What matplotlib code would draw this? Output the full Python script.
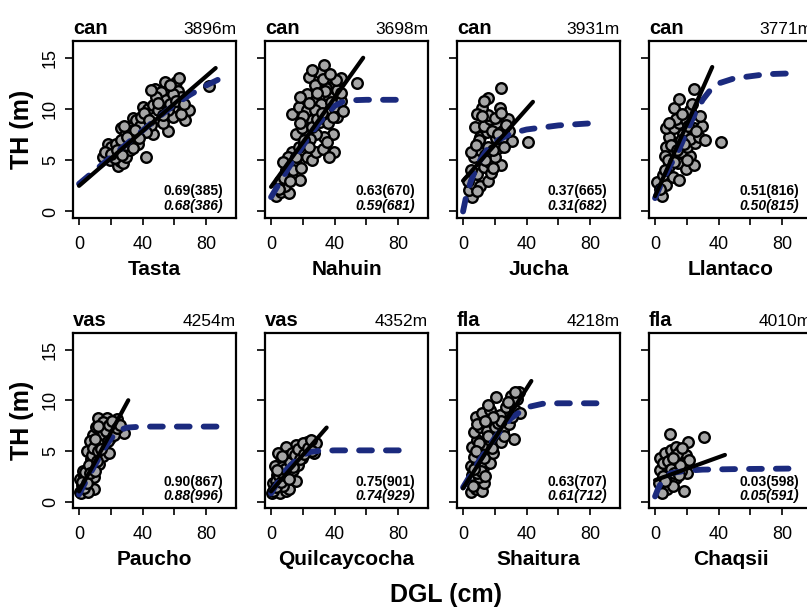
import matplotlib.pyplot as plt
import numpy as np

plt.rcParams["font.family"] = ["Liberation Sans", "DejaVu Sans"]

# panel labels
sites = ["Tasta", "Nahuin", "Jucha", "Llantaco",
         "Paucho", "Quilcaycocha", "Shaitura", "Chaqsii"]
groups = ["can", "can", "can", "can", "vas", "vas", "fla", "fla"]
elevations = ["3896m", "3698m", "3931m", "3771m",
              "4254m", "4352m", "4218m", "4010m"]
stat_lin = ["0.69(385)", "0.63(670)", "0.37(665)", "0.51(816)",
            "0.90(867)", "0.75(901)", "0.63(707)", "0.03(598)"]
stat_nl = ["0.68(386)", "0.59(681)", "0.31(682)", "0.50(815)",
           "0.88(996)", "0.74(929)", "0.61(712)", "0.05(591)"]

# scatter points (DGL cm, TH m)
tasta_x = [18.2, 20.3, 22.4, 19.3, 24.5, 25.6, 27.6, 29.7, 26.6, 28.7, 31.8, 33.9, 36, 38.1,
           37, 42.3, 40.2, 43.3, 46.5, 47.5, 53.8, 51.7, 54.9, 56, 49.6, 52.8, 46.5, 61,
           63.1, 62, 64.2, 65.3, 69.5, 66.4, 59, 59, 82, 31.8, 23.5, 29.7, 36, 39.1, 45.4,
           42.3, 48.6, 59, 56, 32.9, 26.6, 22.4, 15.1, 16.1,
           20, 24, 27, 30, 34, 38, 41, 44, 50, 53, 57, 61, 64, 66, 35, 28, 45, 57]
tasta_y = [6.6, 6.3, 5.8, 5.0, 4.4, 4.9, 4.7, 5.3, 8.1, 7.5, 7.0, 9.1, 8.9, 8.3,
           6.6, 5.3, 10.2, 10.0, 10.4, 12.0, 12.6, 11.7, 10.9, 7.9, 9.9, 8.6, 7.6, 12.6,
           13.0, 11.8, 11.2, 9.9, 9.9, 8.9, 10.2, 9.2, 12.2, 6.0, 6.6, 6.5, 7.6, 9.2, 8.4,
           7.8, 11.2, 11.5, 9.9, 7.9, 7.0, 5.2, 5.3, 5.8,
           5.6, 6.0, 5.5, 7.3, 6.2, 7.2, 9.6, 8.9, 10.6, 9.4, 10.5, 10.8, 9.5, 10.5, 8.0,
           8.3, 11.9, 12.3]

nahuin_x = [3.4, 6.5, 11.5, 8.5, 5.4, 9.5, 12.5, 18.5, 15.5, 13.5, 17.5, 22.6, 25.6, 28.6,
            32.6, 39.7, 36.7, 15.5, 19.5, 13.5, 17.5, 22.6, 27.6, 31.7, 36.7, 39.7, 41.7,
            38.7, 33.6, 28.6, 24.6, 23.6, 30.6, 33.6, 36.7, 39.7, 43.8, 27.6, 22.6, 53.8,
            41.7, 43.8, 25.6, 30.6, 35.7, 20.6, 10.5, 7.5, 18.5, 27.6, 38.7, 34.7,
            5, 8, 12, 14, 16, 19, 21, 24, 26, 29, 32, 34, 38, 41, 44, 20, 24, 29, 33, 37,
            26, 45, 35, 18]
nahuin_y = [1.5, 1.9, 1.8, 2.5, 3.0, 4.0, 4.3, 3.1, 4.6, 5.8, 6.3, 5.3, 5.0, 5.8,
            6.1, 5.8, 5.3, 7.6, 8.1, 9.5, 10.2, 9.9, 10.8, 10.5, 11.2, 10.2, 9.2,
            7.6, 7.3, 7.6, 7.1, 13.1, 13.5, 14.3, 12.8, 12.3, 13.0, 12.3, 11.5, 12.5,
            11.9, 10.8, 8.9, 8.7, 8.6, 6.6, 5.3, 4.8, 11.2, 9.9, 9.2, 12.1,
            2.2, 3.3, 3.0, 4.0, 5.3, 4.2, 7.0, 6.3, 8.2, 9.0, 9.6, 11.8, 10.7, 12.8,
            11.6, 9.3, 10.6, 11.6, 12.9, 13.4, 13.8, 9.8, 6.8, 8.6]

jucha_x = [5.8, 3.8, 6.9, 10.9, 16, 8.9, 12.9, 16.9, 24, 20, 6.9, 10.9, 16, 22, 25,
           10.9, 14.9, 7.7, 12.9, 21, 28, 16.9, 15.9, 20, 11.9, 23.4, 15.9, 24, 31,
           41.1, 29, 25, 9.9, 13.9, 17.9, 4.8, 20.6, 26, 8.9, 18.9,
           3, 5, 8, 12, 14, 18, 22, 24, 27, 13, 9, 19]
jucha_y = [1.4, 2.1, 2.7, 2.5, 3.0, 3.7, 4.3, 4.7, 4.5, 5.3, 5.3, 6.0, 6.3, 6.2, 6.9,
           7.3, 7.8, 8.2, 8.3, 8.6, 9.0, 9.0, 9.4, 9.1, 10.1, 10.1, 11.1, 12.1, 6.9,
           6.8, 7.9, 7.9, 7.0, 5.5, 3.8, 4.0, 7.2, 6.3, 9.5, 6.0,
           3.0, 5.8, 6.5, 9.3, 5.0, 7.9, 7.6, 9.6, 8.4, 10.8, 2.0, 4.2]

llantaco_x = [4.1, 1, 7.1, 5.1, 11.2, 15.2, 9.1, 14.2, 19.3, 22.3, 24.4, 11.2, 16.6, 7.1,
              13.2, 20.3, 25.4, 9.1, 17.3, 22.3, 27.4, 31.5, 41.6, 7.1, 12.2, 15.2, 19.3,
              24.4, 29.4, 28.4, 22.3, 12.2, 15.2, 24.4, 10.2, 16.2, 6.1,
              3, 6, 8, 10, 12, 14, 18, 20, 21, 26, 13, 17, 23, 9]
llantaco_y = [1.5, 2.9, 2.6, 3.6, 3.4, 3.1, 4.4, 4.7, 4.1, 5.4, 4.5, 5.7, 5.8, 6.3,
              6.7, 6.3, 6.7, 7.3, 7.6, 7.1, 7.3, 7.0, 6.8, 8.1, 8.1, 8.6, 8.9,
              8.1, 8.3, 9.3, 9.9, 10.1, 11.0, 12.0, 5.4, 7.0, 5.4,
              2.2, 4.0, 5.0, 6.5, 4.8, 6.0, 6.6, 5.0, 8.3, 7.9, 9.0, 9.5, 10.5, 8.6]

paucho_x = [0.6, 1.6, 2.6, 4.7, 0.6, 3.4, 6.7, 9.7, 5.7, 8.7, 12.8, 4.7, 7.7, 10.7, 14.8,
            11.7, 15.8, 18.8, 8.7, 12.8, 16.8, 10.7, 13.8, 11.7, 17.8, 20.9, 23, 25, 28,
            19.8, 16.8, 23.7, 14.8, 6.7, 2.6, 1.0, 9.7, 5.7,
            2, 3, 4, 5, 6, 7, 8, 9, 10, 11, 12, 13, 14, 15, 17, 18, 19, 21, 22, 24, 26,
            10, 12]
paucho_y = [0.9, 1.6, 1.1, 1.2, 2.2, 2.5, 2.1, 2.4, 3.2, 3.5, 3.7, 5.0, 4.2, 4.8, 4.5,
            5.6, 5.5, 4.8, 6.6, 6.4, 6.4, 7.4, 6.9, 8.2, 8.2, 7.1, 7.8, 7.1, 6.8,
            6.3, 7.4, 8.1, 7.9, 6.0, 3.0, 0.8, 1.2, 0.9,
            1.9, 1.3, 2.9, 1.8, 3.6, 2.8, 4.6, 5.3, 3.0, 4.0, 5.0, 6.0, 5.2, 6.7, 7.0,
            6.0, 7.6, 8.0, 6.6, 7.3, 7.6, 6.2, 7.5]

quil_x = [0.4, 2.4, 5.5, 9.6, 11.6, 1.4, 4.5, 7.6, 3.5, 6.5, 9.6, 12.7, 10.6, 13.7, 5.5,
          8.6, 14.7, 11.6, 16.7, 19.8, 17.8, 22, 24.9, 19.8, 28, 22.9, 15.9, 9.6, 4.5,
          2.4, 7.6, 15.7, 27,
          1, 3, 3, 5, 6, 7, 8, 9, 10, 11, 12, 13, 14, 15, 17, 18, 20, 21, 23, 25, 26, 7, 4]
quil_y = [0.85, 1.2, 0.8, 1.0, 1.2, 1.8, 1.7, 2.0, 2.6, 3.0, 2.6, 2.3, 3.5, 3.1, 3.8,
          4.1, 4.1, 4.6, 3.6, 4.3, 4.8, 5.1, 5.4, 5.4, 5.75, 5.9, 5.6, 5.4, 4.8,
          3.5, 1.5, 2.0, 4.8,
          1.0, 2.0, 1.4, 2.5, 1.9, 3.4, 2.6, 3.2, 4.5, 2.2, 3.9, 4.8, 3.4, 4.6, 5.2,
          4.2, 5.8, 4.7, 5.3, 6.1, 5.0, 4.5, 3.1]

shait_x = [4.8, 7.9, 11.9, 6.9, 12.9, 5.9, 9.9, 4.8, 8.9, 12.9, 17, 6.9, 10.9, 15, 19,
           5.9, 8.9, 12.9, 17, 21, 24, 32, 6.9, 10.9, 15, 20, 25, 29, 7.9, 11.9, 17, 23,
           27, 33, 36, 21, 30, 35, 34, 8.9,
           6, 9, 11, 14, 7, 10, 13, 16, 18, 22, 24, 26, 28, 31, 19, 8, 14, 16, 33]
shait_y = [0.9, 1.2, 1.0, 1.8, 1.8, 2.6, 2.4, 3.5, 3.8, 3.5, 3.8, 4.4, 4.8, 5.1, 4.8,
           5.4, 6.1, 5.7, 6.1, 6.4, 5.9, 6.2, 6.9, 7.4, 7.0, 7.4, 7.0, 7.7, 8.3, 8.7, 9.0,
           8.5, 9.3, 9.0, 8.7, 10.3, 10.4, 10.8, 10.1, 7.7,
           1.5, 2.8, 3.0, 2.5, 3.2, 5.8, 4.3, 6.5, 5.3, 7.8, 8.0, 6.5, 9.8, 8.3, 8.3,
           5.0, 8.0, 9.5, 10.8]

chaq_x = [9.3, 21, 30.6, 3.2, 6.3, 10.3, 13.4, 15.4, 19.4, 9.3, 14.4, 18.4, 20.4, 3.2,
          7.3, 11.3, 16.4, 5.3, 9.3, 13.4, 7.3, 11.3, 18.4, 2.2, 4.3, 12.4, 21.5,
          5, 8, 10, 12, 14, 16, 17, 6, 11, 15]
chaq_y = [6.7, 5.9, 6.4, 4.3, 4.8, 5.1, 5.4, 4.95, 4.6, 4.1, 3.95, 3.8, 2.8, 3.1,
          3.5, 3.0, 3.0, 2.5, 2.0, 2.3, 1.2, 1.5, 1.0, 1.8, 0.85, 4.5, 4.1,
          3.8, 4.0, 3.2, 2.8, 4.7, 3.6, 5.3, 2.0, 4.3, 2.6]

# linear fit end points (x0, x1), (y0, y1)
lin_x = [(0, 86), (0, 58), (0, 44), (0, 36), (0, 31), (0, 35), (0, 43), (0, 44)]
lin_y = [(2.5, 14.0), (2.4, 15.0), (3.0, 10.7), (1.5, 14.1),
         (1.0, 10.0), (1.0, 7.3), (1.3, 11.9), (2.1, 4.6)]

# non-linear (asymptotic) fit
tasta_cx = [0, 10, 20, 30, 40, 50, 60, 70, 80, 88]
tasta_cy = [2.7, 4.0, 5.3, 6.6, 7.9, 9.2, 10.4, 11.4, 12.3, 12.9]
nahuin_cx = [0, 10, 20, 30, 40, 45, 50, 60, 80]
nahuin_cy = [1.4, 4.0, 6.4, 8.6, 10.3, 10.7, 10.85, 10.9, 10.9]
jucha_cx = [0, 2, 5, 10, 15, 20, 30, 40, 60, 80]
jucha_cy = [0.0, 1.5, 3.0, 4.8, 6.0, 6.8, 7.6, 8.0, 8.4, 8.6]
llantaco_cx = [0, 5, 10, 15, 20, 25, 30, 35, 40, 50, 60, 70, 90]
llantaco_cy = [1.3, 3.1, 4.6, 6.0, 7.8, 9.5, 10.9, 11.9, 12.5, 13.0, 13.2, 13.4, 13.5]
paucho_cx = [0, 5, 10, 15, 20, 25, 30, 40, 60, 87]
paucho_cy = [0.7, 2.2, 3.6, 5.0, 6.2, 7.0, 7.3, 7.4, 7.4, 7.4]
quil_cx = [0, 5, 10, 15, 20, 25, 30, 40, 60, 82]
quil_cy = [0.8, 2.1, 3.2, 4.0, 4.6, 4.9, 5.0, 5.05, 5.05, 5.05]
shait_cx = [0, 10, 20, 30, 40, 50, 60, 84]
shait_cy = [1.4, 4.0, 6.3, 8.2, 9.3, 9.65, 9.7, 9.7]
chaq_cx = [0, 2, 5, 10, 20, 30, 50, 84]
chaq_cy = [0.5, 1.3, 2.2, 2.8, 3.05, 3.15, 3.2, 3.25]

pts_x = [tasta_x, nahuin_x, jucha_x, llantaco_x, paucho_x, quil_x, shait_x, chaq_x]
pts_y = [tasta_y, nahuin_y, jucha_y, llantaco_y, paucho_y, quil_y, shait_y, chaq_y]
curve_x = [tasta_cx, nahuin_cx, jucha_cx, llantaco_cx, paucho_cx, quil_cx, shait_cx, chaq_cx]
curve_y = [tasta_cy, nahuin_cy, jucha_cy, llantaco_cy, paucho_cy, quil_cy, shait_cy, chaq_cy]

W, H = 807, 607
fig = plt.figure(figsize=(W / 100, H / 100), dpi=100)

lefts = [73, 265, 457, 649]
tops = [41, 333]
bottoms = [218, 508]
pw = 163
navy = "#1b2a7e"

for i in range(8):
    r, c = divmod(i, 4)
    ax = fig.add_axes([lefts[c] / W, (H - bottoms[r]) / H,
                       pw / W, (bottoms[r] - tops[r]) / H])
    ax.scatter(pts_x[i], pts_y[i], s=58, facecolor="#a6a6a6",
               edgecolor="black", linewidth=1.7, zorder=2)
    ax.plot(curve_x[i], curve_y[i], color=navy, lw=4.2, ls=(0, (2.2, 2.4)),
            dash_capstyle="round", zorder=3)
    ax.plot(lin_x[i], lin_y[i], color="black", lw=3.0, solid_capstyle="round",
            zorder=4)

    ax.set_xlim(-3.8, 98.8)
    ax.set_ylim(-0.64, 16.64)
    ax.set_xticks([0, 20, 40, 60, 80])
    ax.set_xticklabels(["0", "", "40", "", "80"], fontsize=13)
    ax.set_yticks([0, 5, 10, 15])
    if c == 0:
        ax.set_yticklabels(["0", "5", "10", "15"], fontsize=13, rotation=90,
                           va="center")
        ax.set_ylabel("TH (m)", fontsize=18, fontweight="bold", labelpad=6)
    else:
        ax.set_yticklabels([])
    ax.tick_params(axis="x", length=5, width=1.2, pad=8)
    ax.tick_params(axis="y", length=6, width=1.2, pad=4)
    for sp in ax.spines.values():
        sp.set_linewidth(1.6)

    ax.set_xlabel(sites[i], fontsize=15, fontweight="bold", labelpad=5)
    ax.set_title(groups[i], loc="left", fontsize=14.5, fontweight="bold", pad=4)
    ax.set_title(elevations[i], loc="right", fontsize=12.5, pad=5)

    ax.text(0.92, 0.15, stat_lin[i], transform=ax.transAxes, ha="right",
            va="center", fontsize=10, fontweight="bold")
    ax.text(0.92, 0.07, stat_nl[i], transform=ax.transAxes, ha="right",
            va="center", fontsize=10, fontweight="bold", style="italic")

fig.text(446 / W, 1 - 595 / H, "DGL (cm)", ha="center", va="center",
         fontsize=18, fontweight="bold")

fig.savefig("out.png", dpi=100)
